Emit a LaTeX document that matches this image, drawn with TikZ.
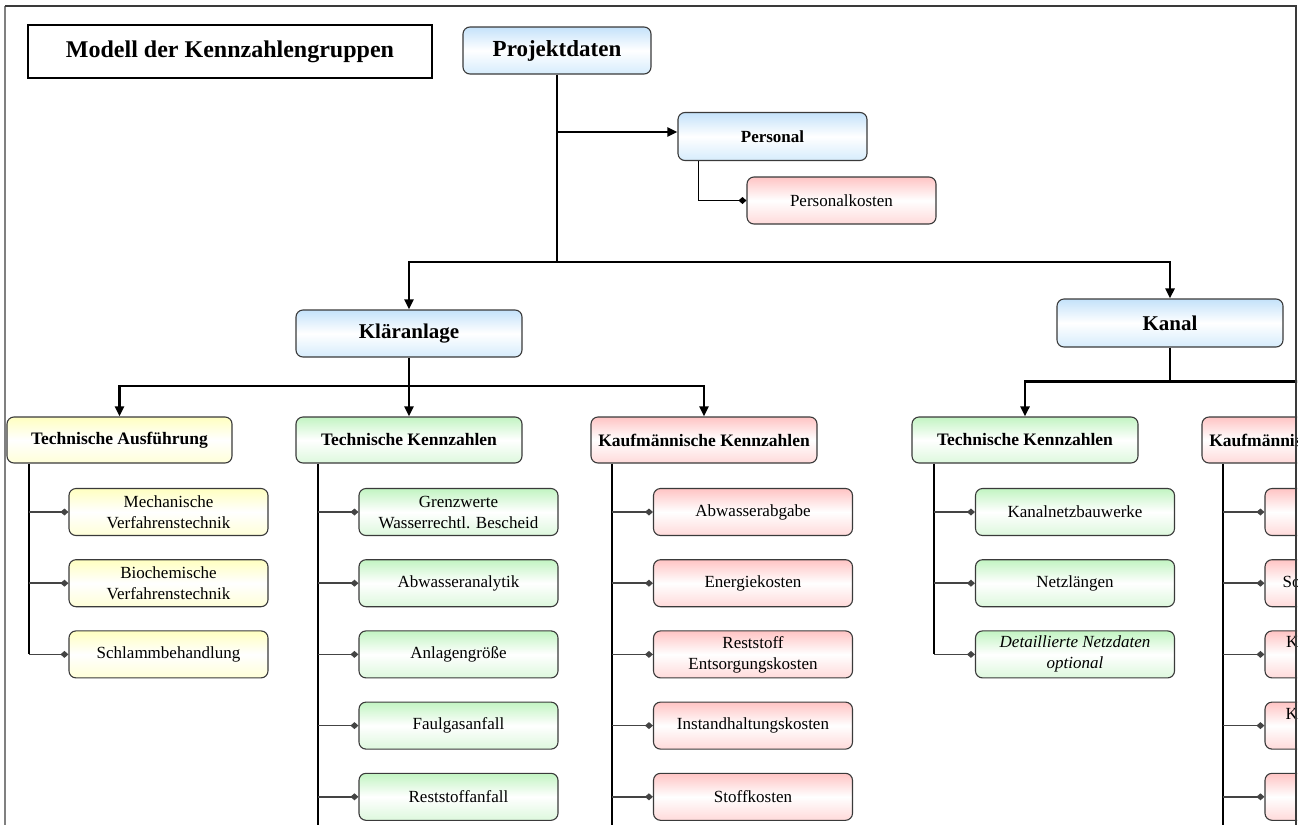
\documentclass[tikz,border=0pt]{standalone}
\usepackage{fontspec}
\setmainfont{Liberation Serif}
\usetikzlibrary{arrows.meta}

\definecolor{boxline}{HTML}{3A3A3A}
\definecolor{bluetop}{HTML}{C4E2FA}
\definecolor{bluebot}{HTML}{D6ECFC}
\definecolor{redtop}{HTML}{FFC4C4}
\definecolor{redbot}{HTML}{FFDADA}
\definecolor{greentop}{HTML}{C2F4C2}
\definecolor{greenbot}{HTML}{DDF8DD}
\definecolor{yellowtop}{HTML}{FFFFC0}
\definecolor{yellowbot}{HTML}{FFFFD8}
\definecolor{branchgray}{HTML}{444444}
\definecolor{framegray}{HTML}{808080}

\tikzset{
  box/.style={draw=boxline, line width=1.1pt, rounded corners=7pt,
    inner sep=0pt, align=center, minimum height=47pt},
  bluebox/.style={box, top color=bluetop, bottom color=bluebot, middle color=white},
  redbox/.style={box, top color=redtop, bottom color=redbot, middle color=white},
  greenbox/.style={box, top color=greentop, bottom color=greenbot, middle color=white},
  yellowbox/.style={box, top color=yellowtop, bottom color=yellowbot, middle color=white},
  hdr/.style={font=\fontsize{17.5}{21}\selectfont\bfseries, minimum width=226pt},
  child/.style={font=\fontsize{17}{21}\selectfont, minimum width=199pt},
  bus/.style={draw=black, line width=2.4pt},
  tip/.style={-{Triangle[length=10pt,width=9pt]}},
  spine/.style={draw=black, line width=2pt},
  branch/.style={draw=branchgray, line width=1.5pt, -{Diamond[length=8pt,width=7pt]}},
}

\begin{document}
\begin{tikzpicture}[x=1pt,y=-1pt]
\useasboundingbox (0,0) rectangle (1298,825);
\begin{scope}
\clip (0,0) rectangle (1297,824);

% title and root
\node[draw=black, line width=2.4pt, fill=white, minimum width=404pt, minimum height=53pt,
      font=\fontsize{24}{28}\selectfont\bfseries] (title) at (230,51.5) {Modell der Kennzahlengruppen};
\node[bluebox, minimum width=188pt, font=\fontsize{23}{27}\selectfont\bfseries] (proj) at (557,50.5) {Projektdaten};

% personnel
\node[bluebox, minimum width=189pt, minimum height=48pt, font=\fontsize{17}{21}\selectfont\bfseries] (pers) at (772.5,136.5) {Personal};
\node[redbox, child, minimum width=189pt] (pkost) at (841.5,200.5) {Personalkosten};

% second level
\node[bluebox, hdr, font=\fontsize{21}{25}\selectfont\bfseries] (klaer) at (409,333.5) {Kläranlage};
\node[bluebox, hdr, minimum height=48pt, font=\fontsize{21}{25}\selectfont\bfseries] (kanal) at (1170,323) {Kanal};

% third level
\node[yellowbox, hdr, minimum width=225pt, minimum height=46pt] (ta) at (119.5,440) {Technische Ausführung};
\node[greenbox, hdr, minimum height=46pt] (tk) at (409,440) {Technische Kennzahlen};
\node[redbox, hdr, minimum height=46pt] (kk) at (704,440) {Kaufmännische Kennzahlen};
\node[greenbox, hdr, minimum height=46pt] (tkb) at (1025,440) {Technische Kennzahlen};
\node[redbox, hdr, minimum height=46pt] (kkb) at (1315,440) {Kaufmännische Kennzahlen};

% leaves: Technische Ausführung
\node[yellowbox, child] (ta1) at (168.5,512) {Mechanische\\Verfahrenstechnik};
\node[yellowbox, child] (ta2) at (168.5,583.2) {Biochemische\\Verfahrenstechnik};
\node[yellowbox, child] (ta3) at (168.5,654.4) {Schlammbehandlung};

% leaves: Technische Kennzahlen (Kläranlage)
\node[greenbox, child] (tk1) at (458.5,512) {Grenzwerte\\Wasserrechtl. Bescheid};
\node[greenbox, child] (tk2) at (458.5,583.2) {Abwasseranalytik};
\node[greenbox, child] (tk3) at (458.5,654.4) {Anlagengröße};
\node[greenbox, child] (tk4) at (458.5,725.6) {Faulgasanfall};
\node[greenbox, child] (tk5) at (458.5,796.8) {Reststoffanfall};

% leaves: Kaufmännische Kennzahlen (Kläranlage)
\node[redbox, child] (kk1) at (753,512) {Abwasserabgabe};
\node[redbox, child] (kk2) at (753,583.2) {Energiekosten};
\node[redbox, child] (kk3) at (753,654.4) {Reststoff\\Entsorgungskosten};
\node[redbox, child] (kk4) at (753,725.6) {Instandhaltungskosten};
\node[redbox, child] (kk5) at (753,796.8) {Stoffkosten};

% leaves: Technische Kennzahlen (Kanal)
\node[greenbox, child] (tb1) at (1075,512) {Kanalnetzbauwerke};
\node[greenbox, child] (tb2) at (1075,583.2) {Netzlängen};
\node[greenbox, child, font=\fontsize{17}{21}\selectfont\itshape] (tb3) at (1075,654.4) {Detaillierte Netzdaten\\optional};

% leaves: Kaufmännische Kennzahlen (Kanal)
\node[redbox, child] (kb1) at (1364.5,512) {Energiekosten};
\node[redbox, child] (kb2) at (1364.5,583.2) {Sonstige Betriebskosten};
\node[redbox, child] (kb3) at (1364.5,654.4) {Kanalreinigungskosten\\Inspektion};
\node[redbox, child] (kb4) at (1364.5,725.6) {Kanalsanierungskosten\\Erneuerung};
\node[redbox, child] (kb5) at (1364.5,796.8) {Stoffkosten};

% main connectors
\coordinate (b0) at (557,262);
\coordinate (pb) at (557,132);
\coordinate (b1) at (409,386);
\coordinate (b2) at (1170,381.5);
\draw[bus] (proj.south) -- (b0);
\draw[bus, tip] (pb) -- (pb -| pers.west);
\draw[bus, tip] (b0) -| (klaer.north);
\draw[bus, tip] (b0) -| (kanal.north);
\draw[bus] (klaer.south) -- (b1);
\draw[bus, tip] (b1) -| (ta.north);
\draw[bus, tip] (b1) -- (tk.north);
\draw[bus, tip] (b1) -| (kk.north);
\draw[bus] (kanal.south) -- (b2);
\draw[bus, tip] (b2) -| (tkb.north);
\draw[bus, tip] (b2) -| (kkb.north);

% personnel link
\draw[draw=black, line width=1.2pt, -{Diamond[length=8pt,width=7pt]}]
  ([xshift=21pt]pers.south west) |- (pkost.west);

% spines
\coordinate (sta) at ([xshift=23pt]ta.south west);
\coordinate (stk) at ([xshift=23pt]tk.south west);
\coordinate (skk) at ([xshift=22pt]kk.south west);
\coordinate (stb) at ([xshift=23pt]tkb.south west);
\coordinate (skb) at ([xshift=22pt]kkb.south west);
\draw[spine] (sta) -- (sta |- ta3.west);
\draw[spine] (stk) -- ++(0,400);
\draw[spine] (skk) -- ++(0,400);
\draw[spine] (stb) -- (stb |- tb3.west);
\draw[spine] (skb) -- ++(0,400);

% branches
\foreach \c in {ta1,ta2,ta3} \draw[branch] (sta |- \c.west) -- (\c.west);
\foreach \c in {tk1,tk2,tk3,tk4,tk5} \draw[branch] (stk |- \c.west) -- (\c.west);
\foreach \c in {kk1,kk2,kk3,kk4,kk5} \draw[branch] (skk |- \c.west) -- (\c.west);
\foreach \c in {tb1,tb2,tb3} \draw[branch] (stb |- \c.west) -- (\c.west);
\foreach \c in {kb1,kb2,kb3,kb4,kb5} \draw[branch] (skb |- \c.west) -- (\c.west);

% page frame
\draw[framegray, line width=2pt] (5,6) -- (5,830);
\draw[boxline, line width=1.6pt] (5,6) -- (1296,6) -- (1296,830);
\end{scope}
\end{tikzpicture}
\end{document}
